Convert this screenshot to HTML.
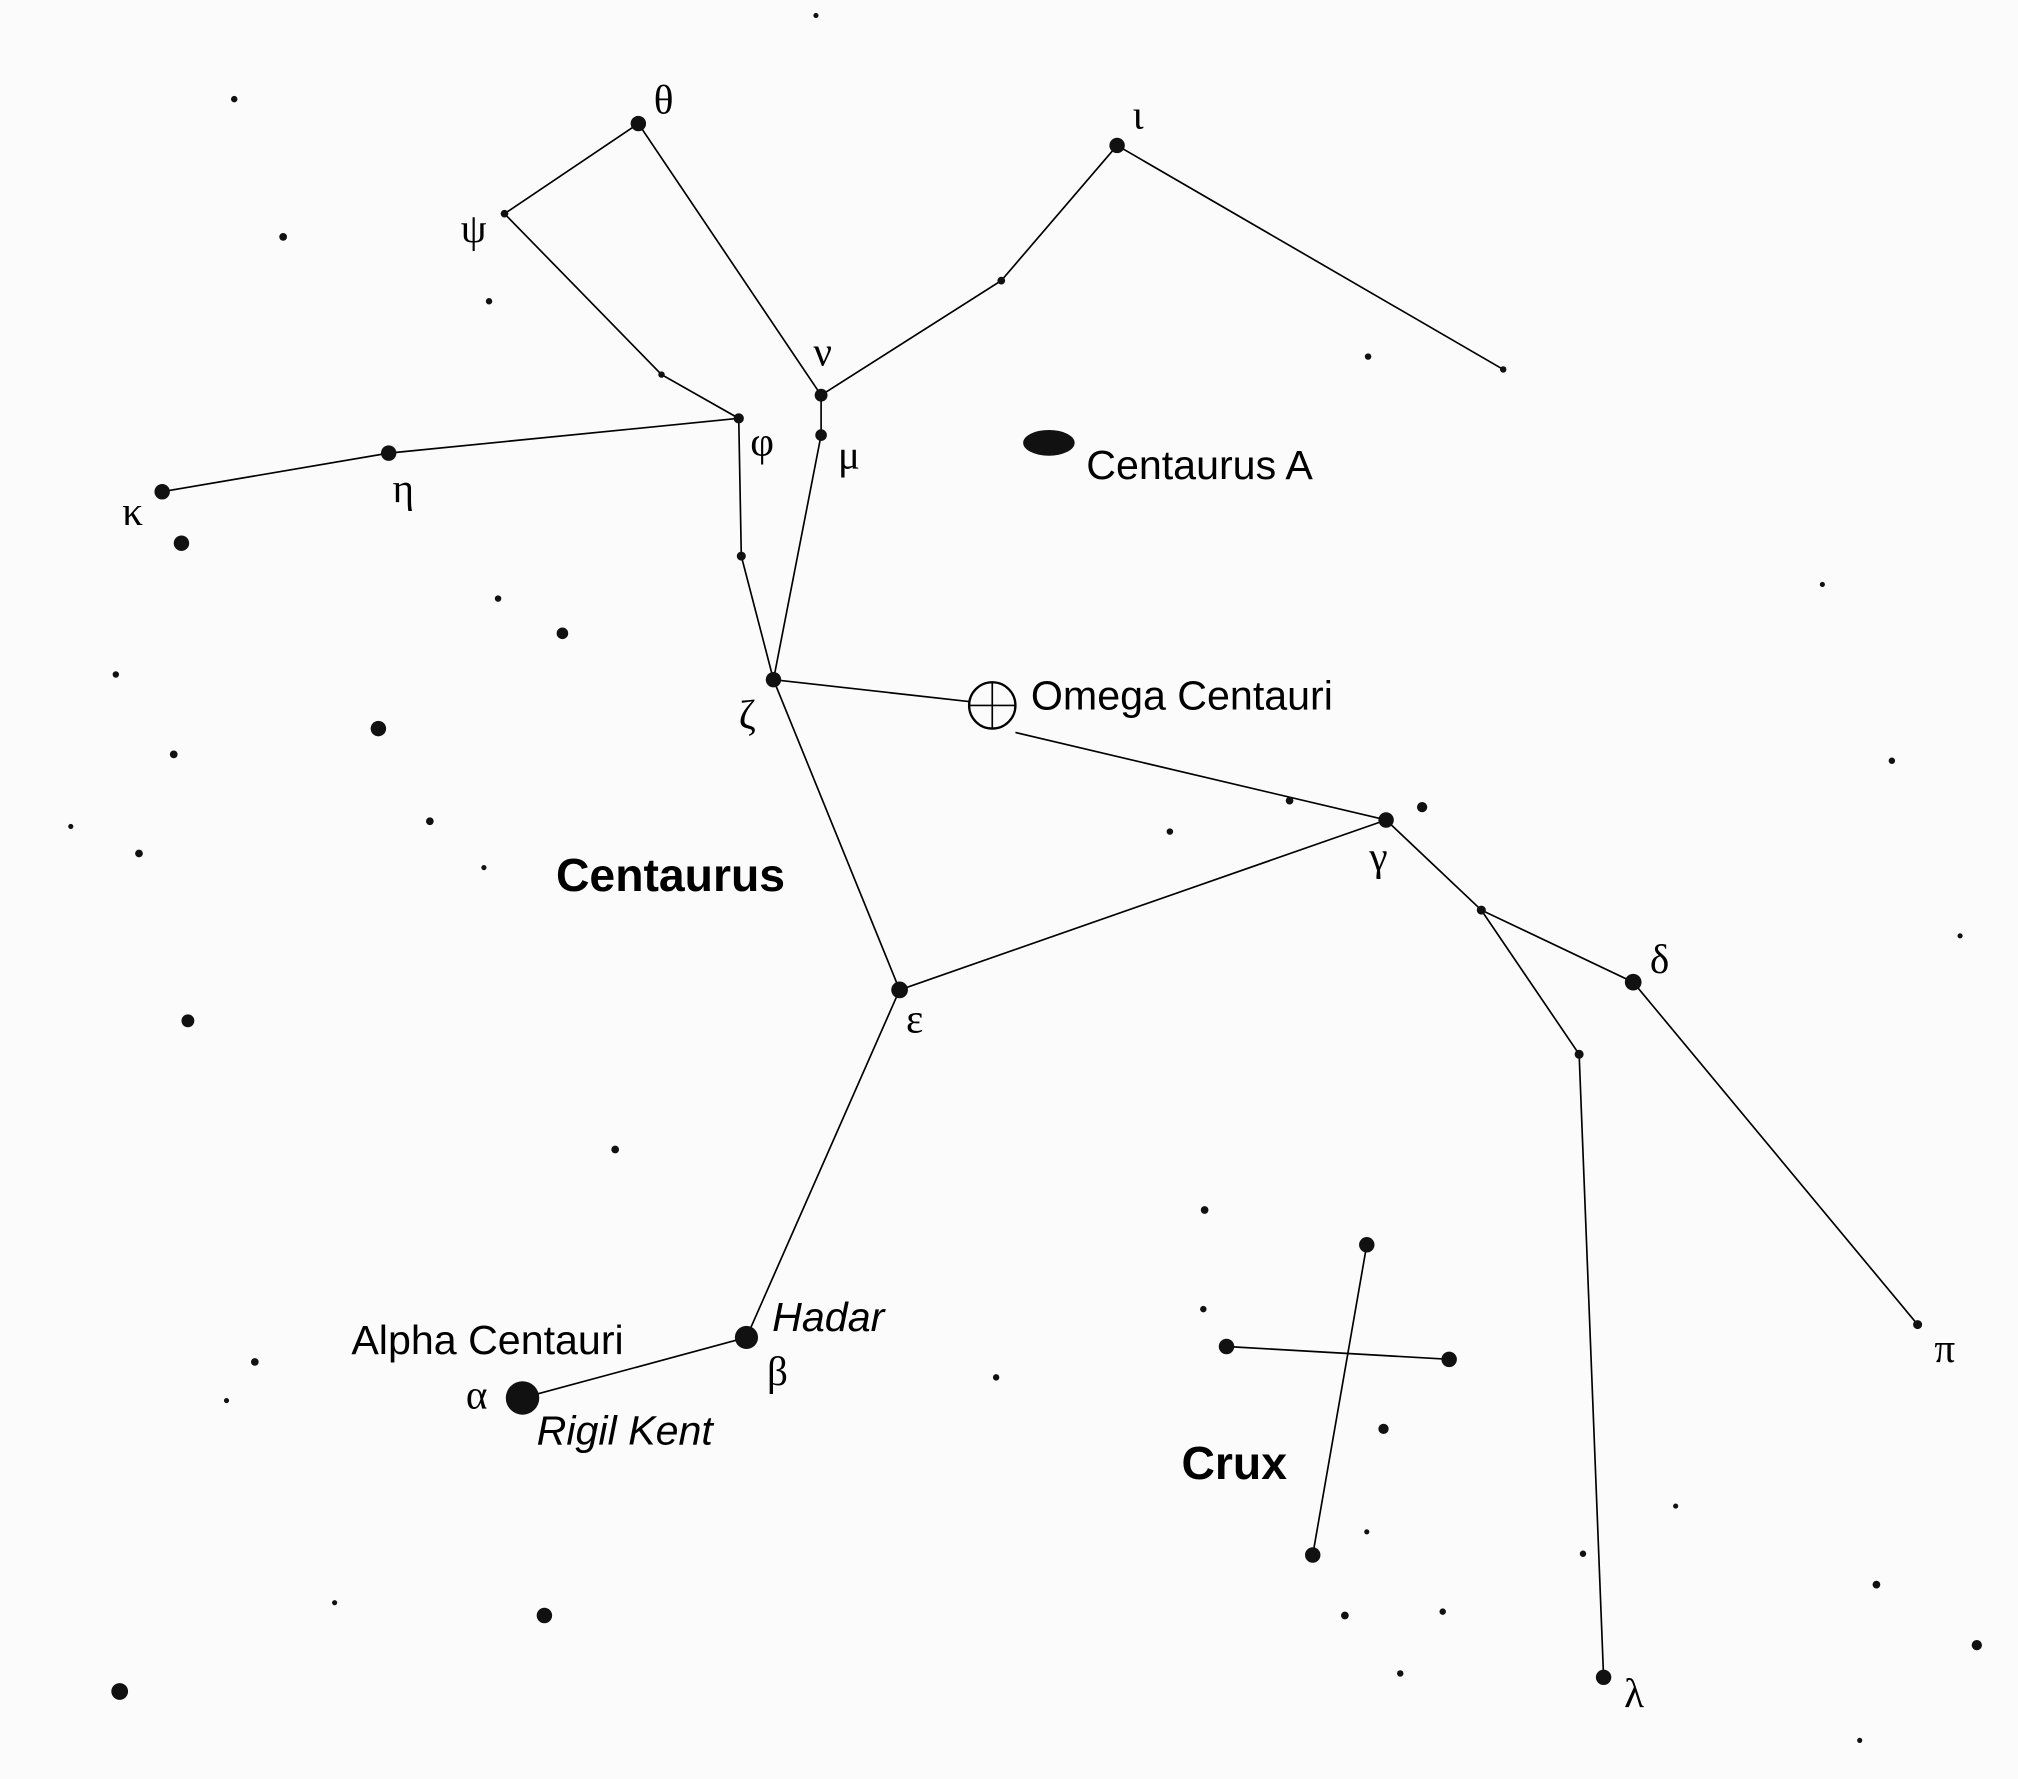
<!DOCTYPE html>
<html><head><meta charset="utf-8"><style>
html,body{margin:0;padding:0;background:#fbfbfb;}
svg{display:block;}
text{font-family:"Liberation Sans",sans-serif;fill:#000;}
.g{font-family:"Liberation Serif",serif;font-size:32px;}
.n{font-size:32px;}
</style></head><body>
<svg width="2018" height="1779" viewBox="0 0 1568 1382" preserveAspectRatio="none">
<rect width="1568" height="1382" fill="#fbfbfb"/>
<g stroke="#000" stroke-width="1.3" fill="none">
<polyline points="392,166 496,96 638,307"/>
<polyline points="392,166 514,291 574,325 302,352 126,382"/>
<polyline points="868,113 778,218 638,307 638,338 601,528"/>
<line x1="868" y1="113" x2="1168" y2="287"/>
<polyline points="574,325 576,432 601,528 699,769 1077,637"/>
<line x1="601" y1="528" x2="753" y2="545"/>
<line x1="789" y1="569" x2="1077" y2="637"/>
<polyline points="1077,637 1151,707 1269,763 1490,1029"/>
<polyline points="1151,707 1227,819 1246,1303"/>
<polyline points="699,769 580,1039 406,1086"/>
<line x1="1062" y1="967" x2="1020" y2="1208"/>
<line x1="953" y1="1046" x2="1126" y2="1056"/>
<circle cx="771" cy="548" r="18" stroke-width="1.8"/>
<line x1="753" y1="548" x2="789" y2="548"/>
<line x1="771" y1="530" x2="771" y2="566"/>
</g>
<g fill="#111">
<circle cx="496" cy="96" r="6"/><circle cx="392" cy="166" r="3"/><circle cx="868" cy="113" r="6"/>
<circle cx="638" cy="307" r="5"/><circle cx="638" cy="338" r="4.5"/><circle cx="574" cy="325" r="4"/>
<circle cx="302" cy="352" r="6"/><circle cx="126" cy="382" r="6"/><circle cx="141" cy="422" r="6"/>
<circle cx="514" cy="291" r="2.5"/><circle cx="778" cy="218" r="3"/><circle cx="1168" cy="287" r="2.5"/>
<circle cx="576" cy="432" r="3.5"/><circle cx="601" cy="528" r="6"/><circle cx="1077" cy="637" r="6"/>
<circle cx="1151" cy="707" r="3.5"/><circle cx="1269" cy="763" r="6.5"/><circle cx="1227" cy="819" r="3.5"/>
<circle cx="699" cy="769" r="6.5"/><circle cx="1490" cy="1029" r="3.5"/><circle cx="1246" cy="1303" r="6"/>
<circle cx="580" cy="1039" r="9"/><circle cx="406" cy="1086" r="13"/>
<circle cx="1062" cy="967" r="6"/><circle cx="1020" cy="1208" r="6"/><circle cx="953" cy="1046" r="6"/>
<circle cx="1126" cy="1056" r="6"/><circle cx="1075" cy="1110" r="4"/>
<ellipse cx="815" cy="344" rx="20" ry="10"/>
<circle cx="220" cy="184" r="3"/><circle cx="380" cy="234" r="2.5"/><circle cx="437" cy="492" r="4.5"/>
<circle cx="294" cy="566" r="6"/><circle cx="135" cy="586" r="3"/><circle cx="108" cy="663" r="3"/>
<circle cx="146" cy="793" r="5"/><circle cx="90" cy="524" r="2.5"/><circle cx="334" cy="638" r="3"/>
<circle cx="1063" cy="277" r="2.5"/><circle cx="1105" cy="627" r="4"/><circle cx="1002" cy="622" r="3"/>
<circle cx="936" cy="940" r="3"/><circle cx="935" cy="1017" r="2.5"/><circle cx="423" cy="1255" r="6"/>
<circle cx="93" cy="1314" r="6.5"/><circle cx="198" cy="1058" r="3"/><circle cx="1536" cy="1278" r="4"/>
<circle cx="1458" cy="1231" r="3"/><circle cx="1045" cy="1255" r="3"/><circle cx="1121" cy="1252" r="2.5"/>
<circle cx="1088" cy="1300" r="2.5"/><circle cx="1470" cy="591" r="2.5"/><circle cx="774" cy="1070" r="2.5"/>
<circle cx="478" cy="893" r="3"/><circle cx="387" cy="465" r="2.5"/><circle cx="182" cy="77" r="2.5"/>
<circle cx="634" cy="12" r="2"/><circle cx="1416" cy="454" r="2"/><circle cx="1062" cy="1190" r="2"/>
<circle cx="376" cy="674" r="2"/><circle cx="909" cy="646" r="2.5"/><circle cx="1230" cy="1207" r="2.5"/>
<circle cx="1302" cy="1170" r="2"/><circle cx="260" cy="1245" r="2"/><circle cx="176" cy="1088" r="2"/>
<circle cx="55" cy="642" r="2"/><circle cx="1523" cy="727" r="2"/><circle cx="1445" cy="1352" r="2"/>
</g>
<text class="g" x="508" y="88">θ</text>
<text class="g" x="358" y="188">ψ</text>
<text class="g" x="880" y="100">ι</text>
<text class="g" x="632" y="284">ν</text>
<text class="g" x="651" y="364">μ</text>
<text class="g" x="583" y="354">φ</text>
<text class="g" x="305" y="390">η</text>
<text class="g" x="95" y="408">κ</text>
<text class="g" x="574" y="566">ζ</text>
<text class="g" x="1064" y="676">γ</text>
<text class="g" x="1282" y="756">δ</text>
<text class="g" x="704" y="802">ε</text>
<text class="g" x="1503" y="1058">π</text>
<text class="g" x="1262" y="1326">λ</text>
<text class="g" x="596" y="1076">β</text>
<text class="g" x="362" y="1094">α</text>
<text class="n" x="844" y="372">Centaurus A</text>
<text class="n" x="801" y="551">Omega Centauri</text>
<text class="n" x="273" y="1052">Alpha Centauri</text>
<text class="n" x="600" y="1034" font-style="italic">Hadar</text>
<text class="n" x="417" y="1122" font-style="italic">Rigil Kent</text>
<text x="432" y="692" font-size="36" font-weight="bold">Centaurus</text>
<text x="918" y="1149" font-size="36" font-weight="bold">Crux</text>
</svg>
</body></html>
